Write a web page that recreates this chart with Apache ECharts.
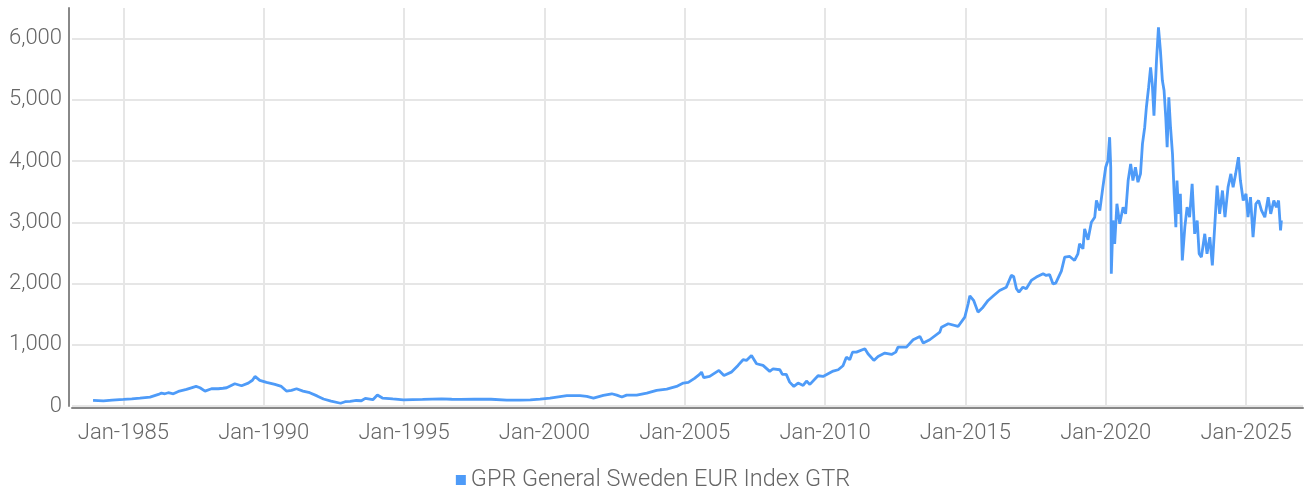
<!DOCTYPE html>
<html>
<head>
<meta charset="utf-8">
<script src="https://cdn.jsdelivr.net/npm/echarts@6/dist/echarts.min.js"></script>
<style>
  html, body { margin: 0; padding: 0; background: #fff; }
  #chart { width: 1306px; height: 490px; }
</style>
</head>
<body>
<div id="chart"></div>
<script>
// index level (x = decimal year)
const years = [
  1983.92, 1984.29, 1984.6, 1985.0, 1985.3, 1985.59, 1985.95, 1986.25, 1986.36, 1986.48,
  1986.6, 1986.78, 1986.96, 1987.25, 1987.45, 1987.59, 1987.73, 1987.91, 1988.14, 1988.38,
  1988.55, 1988.68, 1988.97, 1989.21, 1989.45, 1989.6, 1989.69, 1989.86, 1990.1, 1990.4,
  1990.63, 1990.81, 1990.99, 1991.17, 1991.4, 1991.64, 1991.9, 1992.13, 1992.4, 1992.74,
  1992.9, 1993.08, 1993.3, 1993.48, 1993.62, 1993.89, 1994.05, 1994.23, 1994.6, 1994.98,
  1995.3, 1995.66, 1996.0, 1996.34, 1996.7, 1997.01, 1997.5, 1998.1, 1998.66, 1999.13,
  1999.5, 1999.85, 2000.2, 2000.5, 2000.8, 2001.27, 2001.51, 2001.75, 2002.1, 2002.4,
  2002.58, 2002.76, 2002.93, 2003.29, 2003.65, 2004.0, 2004.36, 2004.71, 2004.95, 2005.13,
  2005.35, 2005.53, 2005.6, 2005.68, 2005.89, 2006.22, 2006.4, 2006.66, 2006.9, 2007.08,
  2007.2, 2007.38, 2007.45, 2007.56, 2007.79, 2008.03, 2008.15, 2008.39, 2008.48, 2008.62,
  2008.74, 2008.89, 2009.04, 2009.22, 2009.34, 2009.46, 2009.75, 2009.93, 2010.29, 2010.47,
  2010.64, 2010.76, 2010.88, 2010.98, 2011.12, 2011.42, 2011.53, 2011.74, 2011.89, 2012.13,
  2012.37, 2012.52, 2012.6, 2012.9, 2013.14, 2013.38, 2013.5, 2013.73, 2014.09, 2014.15,
  2014.39, 2014.74, 2014.98, 2015.1, 2015.16, 2015.3, 2015.45, 2015.63, 2015.81, 2016.0,
  2016.22, 2016.46, 2016.64, 2016.72, 2016.82, 2016.91, 2017.05, 2017.17, 2017.35, 2017.53,
  2017.77, 2017.88, 2018.0, 2018.12, 2018.22, 2018.42, 2018.54, 2018.72, 2018.89, 2019.01,
  2019.07, 2019.19, 2019.25, 2019.37, 2019.49, 2019.61, 2019.67, 2019.79, 2019.9, 2020.0,
  2020.08, 2020.14, 2020.18, 2020.2, 2020.26, 2020.32, 2020.4, 2020.5, 2020.62, 2020.71,
  2020.8, 2020.89, 2020.97, 2021.06, 2021.15, 2021.24, 2021.31, 2021.39, 2021.45, 2021.53,
  2021.6, 2021.66, 2021.72, 2021.81, 2021.88, 2021.95, 2022.02, 2022.08, 2022.14, 2022.19,
  2022.25, 2022.31, 2022.38, 2022.44, 2022.5, 2022.54, 2022.6, 2022.66, 2022.73, 2022.82,
  2022.9, 2022.99, 2023.08, 2023.17, 2023.26, 2023.33, 2023.41, 2023.53, 2023.61, 2023.71,
  2023.8, 2023.89, 2023.97, 2024.06, 2024.16, 2024.25, 2024.36, 2024.46, 2024.54, 2024.63,
  2024.73, 2024.8, 2024.9, 2025.0, 2025.07, 2025.16, 2025.25, 2025.35, 2025.45, 2025.55,
  2025.67, 2025.79, 2025.88, 2025.99, 2026.08, 2026.16, 2026.23, 2026.26
];
const values = [
  92, 84, 95, 108, 118, 129, 146, 189, 211, 200,
  217, 200, 238, 271, 300, 320, 298, 244, 282, 282,
  290, 298, 363, 331, 374, 420, 483, 418, 385, 353,
  320, 244, 255, 282, 244, 217, 165, 114, 80, 45,
  70, 75, 90, 86, 125, 103, 180, 130, 115, 100,
  105, 108, 112, 115, 110, 108, 110, 110, 97, 97,
  100, 113, 129, 150, 168, 168, 157, 129, 173, 200,
  178, 146, 178, 178, 211, 255, 276, 320, 374, 385,
  450, 516, 553, 462, 483, 581, 499, 553, 663, 756,
  744, 826, 840, 690, 663, 565, 608, 592, 516, 516,
  390, 320, 374, 336, 407, 353, 494, 483, 570, 592,
  657, 798, 756, 880, 880, 935, 853, 744, 810, 864,
  842, 880, 962, 962, 1082, 1136, 1027, 1082, 1206, 1288,
  1343, 1299, 1451, 1670, 1800, 1720, 1533, 1614, 1724, 1800,
  1887, 1941, 2133, 2116, 1915, 1860, 1941, 1915, 2051, 2105,
  2159, 2132, 2148, 1996, 2007, 2203, 2431, 2442, 2377, 2486,
  2649, 2568, 2894, 2714, 3002, 3084, 3356, 3193, 3574, 3900,
  4009, 4390, 3900, 2159, 3030, 2649, 3302, 2975, 3247, 3138,
  3682, 3954, 3682, 3900, 3655, 3791, 4281, 4553, 4879, 5206,
  5532, 5260, 4743, 5641, 6185, 5804, 5315, 5152, 4716, 4226,
  5043, 4553, 4118, 3465, 2921, 3682, 3138, 3465, 2377, 2921,
  3247, 3084, 3628, 2812, 3030, 2486, 2431, 2812, 2486, 2758,
  2295, 2975, 3601, 3138, 3519, 3084, 3574, 3791, 3574, 3791,
  4063, 3682, 3356, 3465, 3084, 3411, 2758, 3302, 3356, 3193,
  3084, 3411, 3138, 3356, 3247, 3356, 2867, 3030
];
const xTicks = [1985, 1990, 1995, 2000, 2005, 2010, 2015, 2020, 2025];
const seriesName = 'GPR General Sweden EUR Index GTR';

const textFont = { fontFamily: 'Roboto', fontWeight: 300, fontSize: 22, color: '#666' };

const chart = echarts.init(document.getElementById('chart'));
chart.setOption({
  animation: false,
  grid: { left: 72, right: 3, top: 8, bottom: 84 },
  legend: {
    top: 463,
    left: 'center',
    icon: 'rect',
    itemWidth: 10,
    itemHeight: 10,
    itemGap: 4,
    textStyle: Object.assign({}, textFont, { fontSize: 23.5 }),
    data: [seriesName]
  },
  xAxis: {
    type: 'value',
    min: 1983.17,
    max: 2027.03,
    offset: 2,
    axisLine: { onZero: false, lineStyle: { color: '#888', width: 2 } },
    axisTick: { show: false, customValues: xTicks },
    axisLabel: Object.assign({
      customValues: xTicks,
      margin: 14,
      formatter: v => 'Jan-' + v
    }, textFont),
    splitLine: { show: true, lineStyle: { color: '#e6e6e6', width: 2 } }
  },
  yAxis: {
    type: 'value',
    min: 0,
    max: 6500,
    interval: 1000,
    offset: 3,
    axisLine: { show: true, lineStyle: { color: '#888', width: 2 } },
    axisTick: { show: false },
    axisLabel: Object.assign({
      margin: 7,
      showMaxLabel: false,
      formatter: v => v.toLocaleString('en-US')
    }, textFont),
    splitLine: { show: true, showMaxLine: false, lineStyle: { color: '#e6e6e6', width: 2 } }
  },
  series: [{
    name: seriesName,
    type: 'line',
    data: years.map((y, i) => [y, values[i]]),
    showSymbol: false,
    itemStyle: { color: '#4e9bf8' },
    lineStyle: { color: '#4e9bf8', width: 2.8 }
  }]
});
</script>
</body>
</html>
